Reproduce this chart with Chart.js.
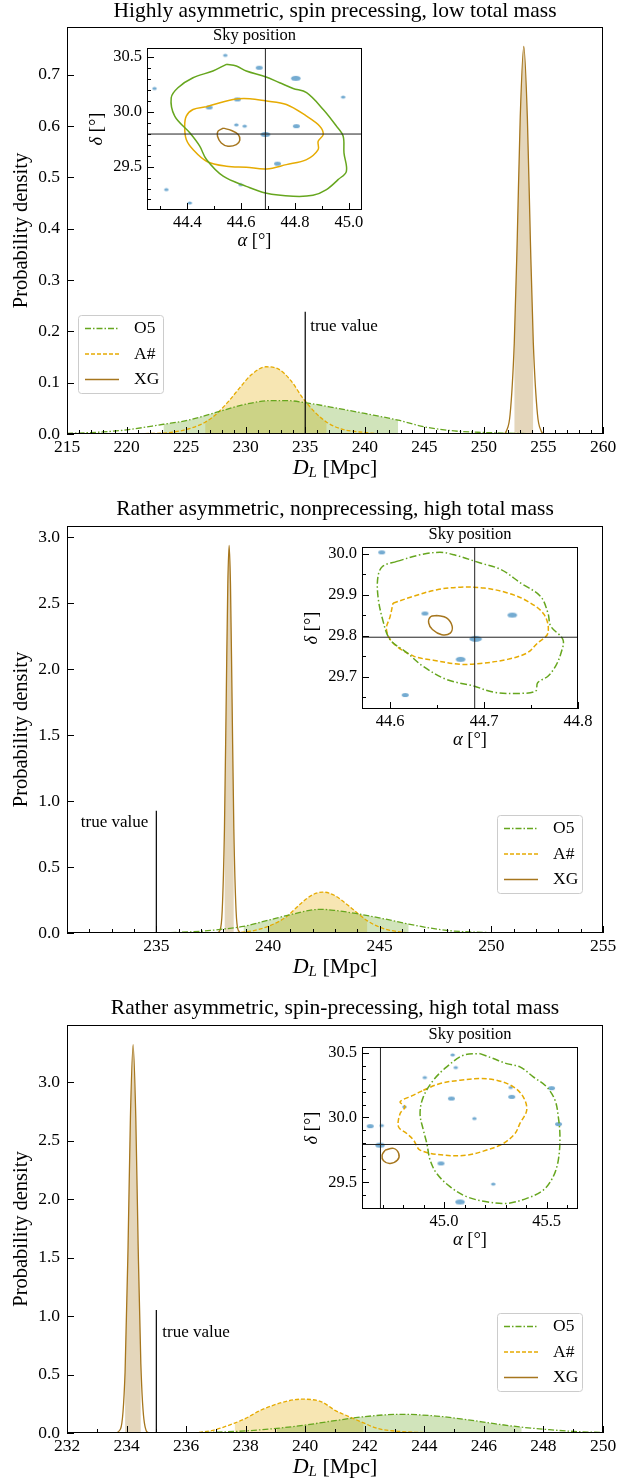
<!DOCTYPE html>
<html>
<head>
<meta charset="utf-8">
<script src="https://cdn.jsdelivr.net/npm/chart.js@4.4.1/dist/chart.umd.min.js"></script>
<style>
  body { margin: 0; background: #fff; width: 639px; height: 1482px; position: relative; overflow: hidden; }
</style>
</head>
<body>
<script>
// ---------- data ----------
const titles = [
  'Highly asymmetric, spin precessing, low total mass',
  'Rather asymmetric, nonprecessing, high total mass',
  'Rather asymmetric, spin-precessing, high total mass'
];
const seriesNames = ['O5', 'A#', 'XG'];
const trueDL = [235, 235, 235];
const trueLineTop = [0.238, 0.926, 1.052];

// panel 1 : luminosity distance posteriors
const dl1_x_O5 = [215, 218, 220, 223.1, 225, 227.5, 230, 232, 233.5, 235, 237.5, 240, 242.8, 245, 247.5, 250, 253, 256, 260];
const dl1_y_O5 = [0.001, 0.004, 0.008, 0.019, 0.026, 0.042, 0.058, 0.065, 0.065, 0.061, 0.051, 0.04, 0.027, 0.014, 0.006, 0.003, 0.001, 0, 0];
const dl1_x_A = [215, 222, 224, 225.5, 226.6, 227.5, 228.5, 229.5, 230.5, 231.7, 232.8, 233.8, 234.8, 235.8, 236.8, 238, 240, 242, 260];
const dl1_y_A = [0, 0.001, 0.004, 0.012, 0.023, 0.038, 0.062, 0.09, 0.116, 0.131, 0.126, 0.104, 0.07, 0.043, 0.023, 0.01, 0.003, 0, 0];
const dl1_x_XG = [215, 251.6, 251.9, 252.2, 252.55, 252.8, 253.05, 253.35, 253.65, 253.9, 254.15, 254.5, 254.8, 255.1, 260];
const dl1_y_XG = [0, 0, 0.0065, 0.038, 0.177, 0.38, 0.616, 0.755, 0.616, 0.38, 0.177, 0.038, 0.0065, 0, 0];
const ci1 = [[223.1, 242.8], [226.6, 236.8], [252.55, 254.15]];

// panel 2
const dl2_x_O5 = [231, 235, 236, 237, 238, 238.9, 240, 241, 242, 242.4, 243, 244, 245, 246.3, 247, 248, 249, 250, 251, 255];
const dl2_y_O5 = [0, 0.001, 0.005, 0.013, 0.03, 0.05, 0.096, 0.139, 0.175, 0.179, 0.171, 0.146, 0.114, 0.068, 0.045, 0.02, 0.008, 0.003, 0.001, 0];
const dl2_x_A = [231, 238.5, 239.3, 240.0, 240.8, 241.5, 242, 242.45, 243, 243.6, 244.45, 245.2, 246, 247, 255];
const dl2_y_A = [0, 0.003, 0.016, 0.05, 0.12, 0.228, 0.29, 0.31, 0.283, 0.208, 0.092, 0.032, 0.007, 0, 0];
const dl2_x_XG = [231, 237.7, 237.85, 237.95, 238.05, 238.13, 238.2, 238.26, 238.32, 238.39, 238.47, 238.57, 238.67, 238.82, 255];
const dl2_y_XG = [0, 0, 0.02, 0.17, 0.79, 1.78, 2.64, 2.936, 2.64, 1.78, 0.79, 0.17, 0.02, 0, 0];
const ci2 = [[238.9, 246.3], [240.0, 244.45], [238.05, 238.47]];

// panel 3
const dl3_x_O5 = [232, 235, 236, 237, 238, 239.05, 240, 241, 242, 243.2, 244.4, 245.4, 246.4, 247.27, 248.2, 249.2, 250];
const dl3_y_O5 = [0, 0.0005, 0.0025, 0.007, 0.018, 0.04, 0.068, 0.106, 0.14, 0.16, 0.145, 0.115, 0.078, 0.05, 0.028, 0.011, 0.005];
const dl3_x_A = [232, 235.5, 236.2, 236.9, 237.63, 238.0, 238.5, 239.3, 239.87, 240.55, 241.0, 241.5, 241.96, 242.46, 243.0, 243.7, 244.5, 250];
const dl3_y_A = [0, 0, 0.002, 0.023, 0.085, 0.125, 0.194, 0.266, 0.289, 0.266, 0.194, 0.137, 0.086, 0.037, 0.017, 0.006, 0, 0];
const dl3_x_XG = [232, 233.6, 233.8, 233.95, 234.05, 234.13, 234.22, 234.31, 234.39, 234.48, 234.6, 234.75, 234.9, 250];
const dl3_y_XG = [0, 0, 0.037, 0.52, 1.59, 2.7, 3.32, 2.7, 1.59, 0.59, 0.084, 0.002, 0, 0];
const ci3 = [[239.05, 247.27], [237.63, 241.96], [233.95, 234.48]];

// tick labels
const dlTicks = [[215, 220, 225, 230, 235, 240, 245, 250, 255, 260], [235, 240, 245, 250, 255], [232, 234, 236, 238, 240, 242, 244, 246, 248, 250]];
const pdfTicks = [[0, 0.1, 0.2, 0.3, 0.4, 0.5, 0.6, 0.7], [0, 0.5, 1, 1.5, 2, 2.5, 3], [0, 0.5, 1, 1.5, 2, 2.5, 3]];
const raTicks = [[44.4, 44.6, 44.8, 45.0], [44.6, 44.7, 44.8], [45.0, 45.5]];
const decTicks = [[29.5, 30.0, 30.5], [29.7, 29.8, 29.9, 30.0], [29.5, 30.0, 30.5]];

// sky positions: true position, 90% contours [ra, dec], host galaxy candidates
const truthRA = [44.69, 44.69, 44.69];
const truthDec = [29.797, 29.796, 29.792];

const sky1_O5 = [[44.545, 30.433], [44.582, 30.418], [44.619, 30.372], [44.69, 30.32], [44.743, 30.265], [44.793, 30.213], [44.843, 30.174], [44.905, 30.021], [44.954, 29.869], [44.979, 29.777], [44.982, 29.625], [44.991, 29.457], [44.96, 29.381], [44.917, 29.29], [44.867, 29.238], [44.793, 29.229], [44.69, 29.259], [44.619, 29.32], [44.533, 29.412], [44.471, 29.564], [44.446, 29.686], [44.409, 29.808], [44.353, 29.96], [44.34, 30.128], [44.365, 30.22], [44.421, 30.311], [44.495, 30.372]];
const sky1_A = [[44.471, 30.046], [44.57, 30.113], [44.632, 30.119], [44.69, 30.10], [44.768, 30.067], [44.843, 29.96], [44.892, 29.869], [44.905, 29.793], [44.886, 29.732], [44.886, 29.655], [44.843, 29.564], [44.768, 29.518], [44.694, 29.479], [44.619, 29.494], [44.545, 29.503], [44.471, 29.549], [44.421, 29.655], [44.396, 29.747], [44.39, 29.869], [44.396, 29.96], [44.421, 30.021]];
const sky1_XG = [[44.533, 29.851], [44.564, 29.829], [44.589, 29.793], [44.595, 29.741], [44.582, 29.701], [44.551, 29.686], [44.526, 29.716], [44.512, 29.777], [44.514, 29.823]];
const gal1_ra = [44.541, 44.667, 44.278, 44.803, 44.979, 44.586, 44.481, 44.582, 44.613, 44.805, 44.69, 44.735, 44.322, 44.598, 44.409];
const gal1_dec = [30.515, 30.402, 30.213, 30.305, 30.134, 30.113, 30.04, 29.881, 29.869, 29.869, 29.793, 29.527, 29.29, 29.335, 29.168];
const gal1_weight = [1, 2, 1, 3, 1, 2, 2, 1, 1, 2, 3, 2, 1, 1, 1];

const sky2_O5 = [[44.607, 29.981], [44.632, 29.997], [44.653, 30.003], [44.668, 29.997], [44.696, 29.977], [44.718, 29.961], [44.739, 29.928], [44.760, 29.896], [44.768, 29.855], [44.771, 29.823], [44.784, 29.79], [44.782, 29.758], [44.776, 29.725], [44.768, 29.701], [44.757, 29.685], [44.755, 29.665], [44.739, 29.659], [44.710, 29.662], [44.689, 29.677], [44.660, 29.693], [44.635, 29.725], [44.618, 29.758], [44.600, 29.79], [44.592, 29.839], [44.587, 29.896], [44.587, 29.944], [44.592, 29.969]];
const sky2_A = [[44.603, 29.879], [44.625, 29.896], [44.650, 29.912], [44.675, 29.918], [44.700, 29.916], [44.725, 29.904], [44.746, 29.884], [44.764, 29.851], [44.768, 29.806], [44.757, 29.782], [44.746, 29.758], [44.725, 29.742], [44.696, 29.732], [44.675, 29.73], [44.646, 29.74], [44.625, 29.75], [44.603, 29.782], [44.596, 29.815], [44.600, 29.847]];
const sky2_XG = [[44.650, 29.849], [44.660, 29.843], [44.666, 29.823], [44.664, 29.806], [44.655, 29.802], [44.645, 29.815], [44.641, 29.831], [44.643, 29.846]];
const gal2_ra = [44.591, 44.637, 44.730, 44.691, 44.675, 44.616];
const gal2_dec = [30.003, 29.854, 29.85, 29.792, 29.742, 29.655];
const gal2_weight = [2, 2, 3, 4, 3, 2];

const sky3_O5 = [[45.175, 30.492], [45.240, 30.454], [45.305, 30.415], [45.370, 30.39], [45.435, 30.313], [45.500, 30.236], [45.541, 30.133], [45.557, 30.005], [45.565, 29.851], [45.557, 29.672], [45.532, 29.544], [45.484, 29.441], [45.403, 29.377], [45.305, 29.338], [45.208, 29.351], [45.110, 29.39], [45.029, 29.467], [44.964, 29.569], [44.932, 29.672], [44.916, 29.8], [44.899, 29.903], [44.883, 30.031], [44.899, 30.159], [44.948, 30.287], [45.013, 30.39], [45.094, 30.479]];
const sky3_A = [[44.899, 30.21], [44.981, 30.262], [45.078, 30.287], [45.175, 30.3], [45.256, 30.287], [45.338, 30.236], [45.386, 30.159], [45.403, 30.056], [45.370, 29.954], [45.346, 29.877], [45.289, 29.8], [45.208, 29.749], [45.110, 29.71], [44.997, 29.71], [44.883, 29.749], [44.851, 29.826], [44.818, 29.877], [44.778, 29.928], [44.786, 30.031], [44.810, 30.082], [44.786, 30.121], [44.851, 30.172]];
const sky3_XG = [[44.713, 29.749], [44.753, 29.762], [44.779, 29.723], [44.773, 29.672], [44.737, 29.646], [44.705, 29.667], [44.698, 29.71]];
const gal3_ra = [45.042, 45.057, 44.906, 45.036, 44.807, 45.325, 45.330, 45.524, 45.148, 45.558, 44.640, 44.696, 44.688, 44.985, 45.240, 45.078];
const gal3_dec = [30.482, 30.385, 30.308, 30.146, 30.082, 30.231, 30.159, 30.226, 29.992, 29.949, 29.933, 29.938, 29.787, 29.646, 29.487, 29.349];
const gal3_weight = [1, 1, 1, 2, 1, 1, 2, 2, 1, 2, 2, 1, 3, 2, 1, 3];

// ---------- styles ----------
const FONT = '"Liberation Serif", "Times New Roman", serif';
Chart.defaults.font.family = FONT;
Chart.defaults.color = '#000';
const style = {
  'O5': { color: '#66a61e', fill: 'rgba(102,166,30,0.3)', dash: [6, 2, 1.5, 2] },
  'A#': { color: '#e6ab02', fill: 'rgba(230,171,2,0.3)', dash: [4, 2] },
  'XG': { color: '#a6761d', fill: 'rgba(166,118,29,0.3)', dash: [] }
};
const GAL = 'rgba(31,119,180,0.62)';

function blob(w, h) {
  const c = document.createElement('canvas');
  c.width = Math.ceil(w) + 2; c.height = Math.ceil(h) + 2;
  const g = c.getContext('2d');
  g.fillStyle = GAL;
  g.beginPath(); g.ellipse(c.width / 2, c.height / 2, w / 2, h / 2, 0, 0, 2 * Math.PI); g.fill();
  return c;
}
const blobs = { 1: blob(4.5, 3.2), 2: blob(7, 4), 3: blob(9.5, 5), 4: blob(12.5, 6) };

function makeCanvas(r) {
  const c = document.createElement('canvas');
  c.width = r[2]; c.height = r[3];
  c.style.cssText = `position:absolute;left:${r[0]}px;top:${r[1]}px;width:${r[2]}px;height:${r[3]}px`;
  document.body.appendChild(c);
  return c;
}
const pts = (xs, ys) => xs.map((x, i) => ({ x, y: ys[i] }));

// draw text made of pieces with different fonts, centred at (cx, cy)
function mixed(ctx, cx, cy, parts) {
  let w = 0;
  parts.forEach(p => { ctx.font = p.font; p.w = ctx.measureText(p.t).width; w += p.w; });
  let x = cx - w / 2;
  ctx.textAlign = 'left'; ctx.textBaseline = 'middle';
  parts.forEach(p => { ctx.font = p.font; ctx.fillText(p.t, x, cy + (p.dy || 0)); x += p.w; });
}

function frameAndTicks(chart, o) {
  const c = chart.ctx, a = chart.chartArea;
  const xs = chart.scales.x, ys = chart.scales.y;
  c.save();
  c.strokeStyle = '#000'; c.lineWidth = 1; c.setLineDash([]);
  const mark = (scale, step, len, horiz) => {
    const n0 = Math.ceil(scale.min / step - 1e-6), n1 = Math.floor(scale.max / step + 1e-6);
    for (let n = n0; n <= n1; n++) {
      const p = Math.round(scale.getPixelForValue(n * step)) + 0.5;
      c.beginPath();
      if (horiz) { c.moveTo(p, a.bottom); c.lineTo(p, a.bottom - len); }
      else { c.moveTo(a.left, p); c.lineTo(a.left + len, p); }
      c.stroke();
    }
  };
  if (o.xMinor) mark(xs, o.xMinor, o.minLen, true);
  if (o.yMinor) mark(ys, o.yMinor, o.minLen, false);
  xs.ticks.forEach(t => {
    const p = Math.round(xs.getPixelForValue(t.value)) + 0.5;
    c.beginPath(); c.moveTo(p, a.bottom); c.lineTo(p, a.bottom - o.majLen); c.stroke();
  });
  ys.ticks.forEach(t => {
    const p = Math.round(ys.getPixelForValue(t.value)) + 0.5;
    c.beginPath(); c.moveTo(a.left, p); c.lineTo(a.left + o.majLen, p); c.stroke();
  });
  c.strokeRect(a.left + 0.5, a.top + 0.5, a.width - 1, a.height - 1);
  c.restore();
}

// the y scale fills the whole left margin and the x scale the whole bottom margin,
// so the plot area lands exactly on p.area
function layoutOf(p) {
  const cv = p.canvas, ar = p.area;
  return {
    padding: { left: 0, top: ar[1] - cv[1], right: cv[0] + cv[2] - ar[2], bottom: 0 },
    yWidth: ar[0] - cv[0], xHeight: cv[1] + cv[3] - ar[3]
  };
}

function axisScales(p, fontSize, xPad, yPad) {
  const L = layoutOf(p);
  return {
    x: {
      type: 'linear', min: p.x[0], max: p.x[1],
      grid: { display: false, drawTicks: false }, border: { display: false },
      ticks: { font: { size: fontSize }, padding: xPad, maxRotation: 0, autoSkip: false, callback: v => p.xDec === undefined ? String(v) : v.toFixed(p.xDec) },
      afterBuildTicks: s => { s.ticks = p.xt.map(v => ({ value: v })); },
      afterFit: s => { s.height = L.xHeight; }
    },
    y: {
      type: 'linear', min: p.y[0], max: p.y[1],
      grid: { display: false, drawTicks: false }, border: { display: false },
      ticks: { font: { size: fontSize }, padding: yPad, autoSkip: false, callback: v => v.toFixed(p.yDec) },
      afterBuildTicks: s => { s.ticks = p.yt.map(v => ({ value: v })); },
      afterFit: s => { s.width = L.yWidth; }
    }
  };
}

// ---------- main distance panels ----------
function mainPanel(p) {
  const cv = makeCanvas(p.canvas);
  const ox = p.canvas[0], oy = p.canvas[1];
  const datasets = [];
  seriesNames.forEach((name, i) => {
    const all = pts(p.curves[i][0], p.curves[i][1]);
    const ci = p.ci[i];
    datasets.push({
      data: all.filter(q => q.x >= ci[0] - 1e-9 && q.x <= ci[1] + 1e-9),
      borderColor: 'rgba(0,0,0,0)', borderWidth: 0, backgroundColor: style[name].fill,
      fill: 'origin', cubicInterpolationMode: 'monotone', pointRadius: 0, order: 5
    });
    datasets.push({
      data: all, borderColor: style[name].color, borderWidth: 1.3, borderDash: style[name].dash,
      fill: false, cubicInterpolationMode: 'monotone', pointRadius: 0, order: 2
    });
  });
  datasets.push({
    data: [{ x: p.trueX, y: 0 }, { x: p.trueX, y: p.trueTop }],
    borderColor: '#000', borderWidth: 1.2, fill: false, pointRadius: 0, order: 1
  });

  const deco = {
    id: 'deco',
    afterDraw(chart) {
      frameAndTicks(chart, { xMinor: 1, minLen: 4, majLen: 7 });
      const c = chart.ctx, a = chart.chartArea;
      c.save();
      c.fillStyle = '#000';
      // title
      c.font = '21.5px ' + FONT; c.textAlign = 'center'; c.textBaseline = 'middle';
      c.fillText(p.title, (a.left + a.right) / 2, p.titleY - oy);
      // x label
      mixed(c, (a.left + a.right) / 2, p.xlabY - oy, [
        { t: 'D', font: 'italic 22px ' + FONT },
        { t: 'L', font: 'italic 15px ' + FONT, dy: 5 },
        { t: ' [Mpc]', font: '22px ' + FONT }
      ]);
      // y label
      c.save();
      c.translate(22 - ox, (a.top + a.bottom) / 2); c.rotate(-Math.PI / 2);
      c.font = '20.5px ' + FONT; c.textAlign = 'center'; c.textBaseline = 'middle';
      c.fillText('Probability density', 0, 0);
      c.restore();
      // true value label
      const tx = chart.scales.x.getPixelForValue(p.trueX), ty = chart.scales.y.getPixelForValue(p.trueTop);
      c.font = '17px ' + FONT; c.textBaseline = 'middle';
      c.textAlign = p.trueText.align;
      c.fillText('true value', tx + p.trueText.dx, ty + p.trueText.dy);
      // legend
      const lx = p.legend[0] - ox, ly = p.legend[1] - oy, lw = 85, lh = 78;
      c.beginPath(); c.roundRect(lx + 0.5, ly + 0.5, lw, lh, 3);
      c.fillStyle = 'rgba(255,255,255,0.8)'; c.fill();
      c.strokeStyle = '#cccccc'; c.lineWidth = 1; c.stroke();
      seriesNames.forEach((name, i) => {
        const cy = ly + 13.5 + i * 25.5;
        c.strokeStyle = style[name].color; c.lineWidth = 1.3; c.setLineDash(style[name].dash);
        c.beginPath(); c.moveTo(lx + 7, cy); c.lineTo(lx + 41, cy); c.stroke();
        c.setLineDash([]);
        c.fillStyle = '#000'; c.font = '17.5px ' + FONT; c.textAlign = 'left'; c.textBaseline = 'middle';
        c.fillText(name, lx + 56, cy);
      });
      c.restore();
    }
  };

  new Chart(cv, {
    type: 'line',
    data: { datasets },
    options: {
      responsive: false, animation: false, devicePixelRatio: 1,
      layout: { padding: layoutOf(p).padding },
      plugins: { legend: { display: false }, tooltip: { enabled: false } },
      scales: axisScales(p, 17.5, 3, 7)
    },
    plugins: [deco]
  });
}

// ---------- sky position insets ----------
function skyInset(p) {
  const cv = makeCanvas(p.canvas);
  const closed = arr => arr.concat([arr[0]]).map(q => ({ x: q[0], y: q[1] }));
  const datasets = [{
    data: pts(p.gal[0], p.gal[1]), showLine: false, pointRadius: 3,
    pointStyle: p.gal[2].map(w => blobs[w]), order: 5
  }];
  seriesNames.forEach((name, i) => {
    datasets.push({
      data: closed(p.contours[i]), borderColor: style[name].color, borderWidth: 1.5,
      borderDash: p.dashed ? (name === 'O5' ? [7, 2.5, 1.5, 2.5] : name === 'A#' ? [5, 2.5] : []) : [],
      tension: 0.35, fill: false, pointRadius: 0, order: 3
    });
  });
  datasets.push({ data: [{ x: p.truth[0], y: p.y[0] }, { x: p.truth[0], y: p.y[1] }], borderColor: '#222', borderWidth: 1, pointRadius: 0, fill: false, order: 1 });
  datasets.push({ data: [{ x: p.x[0], y: p.truth[1] }, { x: p.x[1], y: p.truth[1] }], borderColor: '#222', borderWidth: 1, pointRadius: 0, fill: false, order: 1 });

  const deco = {
    id: 'deco',
    beforeDraw(chart) {
      const a = chart.chartArea, c = chart.ctx;
      c.save(); c.fillStyle = '#fff'; c.fillRect(a.left, a.top, a.width, a.height); c.restore();
    },
    afterDraw(chart) {
      frameAndTicks(chart, { xMinor: p.xMinor, yMinor: p.yMinor, minLen: 4, majLen: 7 });
      const c = chart.ctx, a = chart.chartArea;
      c.save();
      c.fillStyle = '#000';
      c.font = '16.5px ' + FONT; c.textAlign = 'center'; c.textBaseline = 'middle';
      c.fillText('Sky position', (a.left + a.right) / 2, a.top - 12);
      mixed(c, (a.left + a.right) / 2, a.bottom + 31, [
        { t: 'α', font: 'italic 18.5px ' + FONT }, { t: ' [°]', font: '18.5px ' + FONT }
      ]);
      c.save();
      c.translate(a.left - 50, (a.top + a.bottom) / 2); c.rotate(-Math.PI / 2);
      mixed(c, 0, 0, [{ t: 'δ', font: 'italic 18.5px ' + FONT }, { t: ' [°]', font: '18.5px ' + FONT }]);
      c.restore();
      c.restore();
    }
  };

  new Chart(cv, {
    type: 'line',
    data: { datasets },
    options: {
      responsive: false, animation: false, devicePixelRatio: 1,
      layout: { padding: layoutOf(p).padding },
      plugins: { legend: { display: false }, tooltip: { enabled: false } },
      scales: axisScales(p, 16.5, 3, 5)
    },
    plugins: [deco]
  });
}

const mains = [
  { title: titles[0], canvas: [0, 0, 639, 490], area: [67, 27, 603, 434], x: [215, 260], y: [0, 0.793],
    xt: dlTicks[0], yt: pdfTicks[0], yDec: 1,
    curves: [[dl1_x_O5, dl1_y_O5], [dl1_x_A, dl1_y_A], [dl1_x_XG, dl1_y_XG]], ci: ci1,
    trueX: trueDL[0], trueTop: trueLineTop[0], trueText: { dx: 5, dy: 15, align: 'left' },
    legend: [78, 315], titleY: 11, xlabY: 468 },
  { title: titles[1], canvas: [0, 490, 639, 495], area: [67, 526, 603, 933], x: [231, 255], y: [0, 3.083],
    xt: dlTicks[1], yt: pdfTicks[1], yDec: 1,
    curves: [[dl2_x_O5, dl2_y_O5], [dl2_x_A, dl2_y_A], [dl2_x_XG, dl2_y_XG]], ci: ci2,
    trueX: trueDL[1], trueTop: trueLineTop[1], trueText: { dx: -8, dy: 12, align: 'right' },
    legend: [497, 815], titleY: 509, xlabY: 967 },
  { title: titles[2], canvas: [0, 985, 639, 497], area: [67, 1025, 603, 1433], x: [232, 250], y: [0, 3.488],
    xt: dlTicks[2], yt: pdfTicks[2], yDec: 1,
    curves: [[dl3_x_O5, dl3_y_O5], [dl3_x_A, dl3_y_A], [dl3_x_XG, dl3_y_XG]], ci: ci3,
    trueX: trueDL[2], trueTop: trueLineTop[2], trueText: { dx: 6, dy: 23, align: 'left' },
    legend: [497, 1313], titleY: 1008, xlabY: 1467 }
];
mains.forEach(mainPanel);

const insets = [
  { canvas: [80, 20, 300, 240], area: [147, 48, 362, 210], x: [44.25, 45.049], y: [29.104, 30.582],
    xt: raTicks[0], yt: decTicks[0], xDec: 1, yDec: 1, xMinor: 0.1, yMinor: 0.1,
    contours: [sky1_O5, sky1_A, sky1_XG], dashed: false, gal: [gal1_ra, gal1_dec, gal1_weight], truth: [truthRA[0], truthDec[0]] },
  { canvas: [295, 518, 310, 240], area: [362, 547, 578, 709], x: [44.57, 44.80], y: [29.621, 30.016],
    xt: raTicks[1], yt: decTicks[1], xDec: 1, yDec: 1, xMinor: 0.05, yMinor: 0.05,
    contours: [sky2_O5, sky2_A, sky2_XG], dashed: true, gal: [gal2_ra, gal2_dec, gal2_weight], truth: [truthRA[1], truthDec[1]] },
  { canvas: [295, 1018, 310, 240], area: [362, 1047, 578, 1209], x: [44.60, 45.653], y: [29.295, 30.543],
    xt: raTicks[2], yt: decTicks[2], xDec: 1, yDec: 1, xMinor: 0.1, yMinor: 0.1,
    contours: [sky3_O5, sky3_A, sky3_XG], dashed: true, gal: [gal3_ra, gal3_dec, gal3_weight], truth: [truthRA[2], truthDec[2]] }
];
insets.forEach(skyInset);
</script>
</body>
</html>
